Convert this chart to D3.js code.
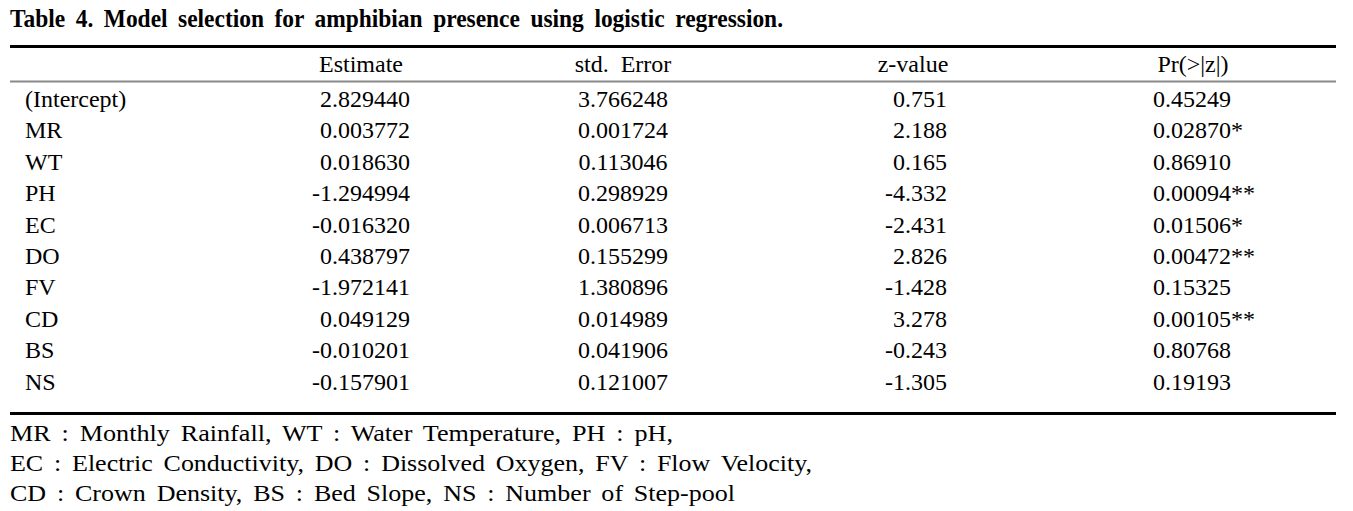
<!DOCTYPE html>
<html>
<head>
<meta charset="utf-8">
<script src="https://cdn.jsdelivr.net/npm/d3@7"></script>
<style>
  html, body { margin: 0; padding: 0; background: #fff; }
  svg text { font-family: "Liberation Serif", "Times New Roman", serif; fill: #000; white-space: pre; }
</style>
</head>
<body>
<svg id="chart" width="1353" height="511"></svg>
<script>
const title = "Table 4. Model selection for amphibian presence using logistic regression.";
const columns = ["", "Estimate", "std.  Error", "z-value", "Pr(>|z|)"];
const terms = ["(Intercept)", "MR", "WT", "PH", "EC", "DO", "FV", "CD", "BS", "NS"];
const estimates = [2.829440, 0.003772, 0.018630, -1.294994, -0.016320, 0.438797, -1.972141, 0.049129, -0.010201, -0.157901];
const stdErrors = [3.766248, 0.001724, 0.113046, 0.298929, 0.006713, 0.155299, 1.380896, 0.014989, 0.041906, 0.121007];
const zValues = [0.751, 2.188, 0.165, -4.332, -2.431, 2.826, -1.428, 3.278, -0.243, -1.305];
const pValues = [0.45249, 0.02870, 0.86910, 0.00094, 0.01506, 0.00472, 0.15325, 0.00105, 0.80768, 0.19193];
const signif = ["", "*", "", "**", "*", "**", "", "**", "", ""];
const notes = [
  "MR : Monthly Rainfall, WT : Water Temperature, PH : pH,",
  "EC : Electric Conductivity, DO : Dissolved Oxygen, FV : Flow Velocity,",
  "CD : Crown Density, BS : Bed Slope, NS : Number of Step-pool"
];

const svg = d3.select("#chart");
const left = 10, right = 1336;
const fs = 24;

// Title
svg.append("text")
  .attr("x", 10).attr("y", 27)
  .attr("font-size", 25).attr("font-weight", "bold")
  .attr("word-spacing", 5)
  .attr("textLength", 773).attr("lengthAdjust", "spacingAndGlyphs")
  .text(title);

// Row scale
const y = d3.scaleBand().domain(terms).range([84, 398]);

// Rules
svg.append("line").attr("x1", left).attr("x2", right).attr("y1", 46.5).attr("y2", 46.5)
  .attr("stroke", "#000").attr("stroke-width", 3);
svg.append("line").attr("x1", left).attr("x2", right).attr("y1", 81.5).attr("y2", 81.5)
  .attr("stroke", "#8a8a8a").attr("stroke-width", 2);
svg.append("line").attr("x1", left).attr("x2", right).attr("y1", 413.5).attr("y2", 413.5)
  .attr("stroke", "#000").attr("stroke-width", 3);

// Column specs
const colSpec = [
  { x: 25, anchor: "start", hx: 25, fmt: (i) => terms[i] },
  { x: 410, anchor: "end", hx: 361, fmt: (i) => d3.format(".6f")(estimates[i]).replace("−", "-") },
  { x: 623, anchor: "middle", hx: 623, fmt: (i) => d3.format(".6f")(stdErrors[i]) },
  { x: 947, anchor: "end", hx: 913, fmt: (i) => d3.format(".3f")(zValues[i]).replace("−", "-") },
  { x: 1153, anchor: "start", hx: 1193, fmt: (i) => d3.format(".5f")(pValues[i]) + signif[i] }
];

// Header
svg.append("g").selectAll("text").data(columns).join("text")
  .attr("x", (d, i) => colSpec[i].hx)
  .attr("y", 72)
  .attr("text-anchor", "middle")
  .attr("font-size", fs)
  .text(d => d);

// Body
const rows = svg.append("g").selectAll("g").data(terms).join("g")
  .attr("transform", d => `translate(0,${y(d) + 23})`);

rows.each(function(d, i) {
  const g = d3.select(this);
  colSpec.forEach(c => {
    g.append("text")
      .attr("x", c.x)
      .attr("text-anchor", c.anchor)
      .attr("font-size", fs)
      .text(c.fmt(i));
  });
});

// Notes
const noteLen = [663, 802, 725];
svg.append("g").selectAll("text").data(notes).join("text")
  .attr("x", 10)
  .attr("y", (d, i) => 441 + i * 30)
  .attr("font-size", fs)
  .attr("word-spacing", 4)
  .attr("textLength", (d, i) => noteLen[i])
  .attr("lengthAdjust", "spacingAndGlyphs")
  .text(d => d);
</script>
</body>
</html>
